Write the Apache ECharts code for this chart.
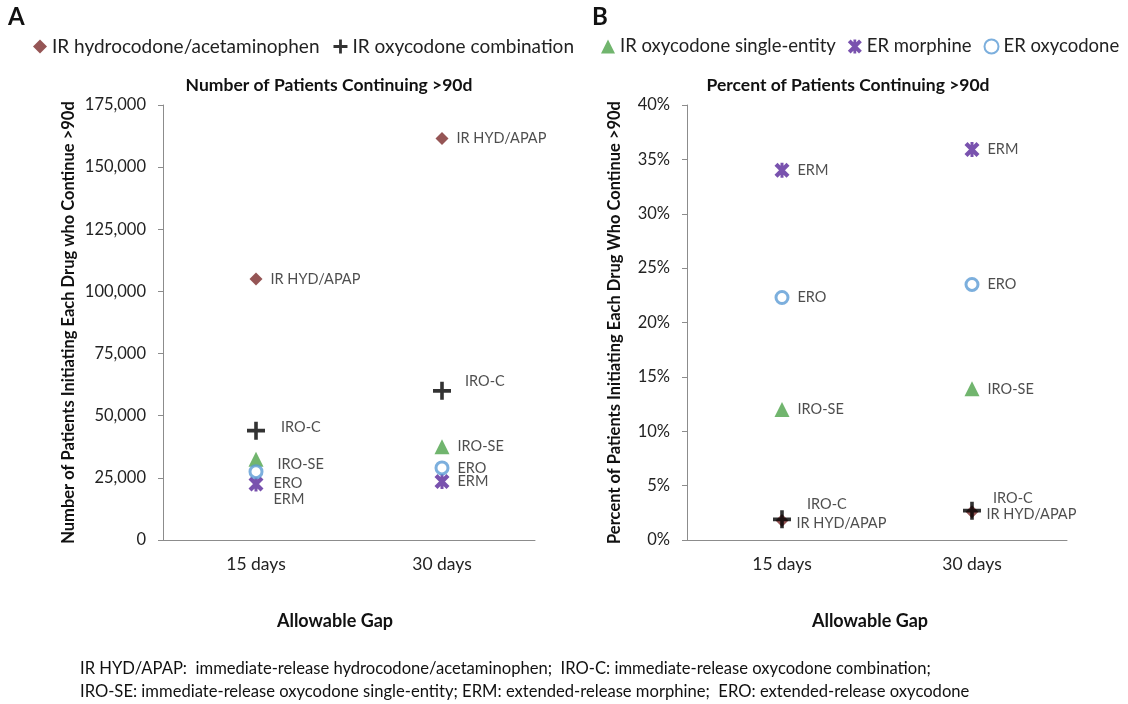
<!DOCTYPE html>
<html>
<head>
<meta charset="utf-8">
<script src="https://cdn.jsdelivr.net/npm/echarts@6/dist/echarts.min.js"></script>
<style>
  html, body { margin: 0; padding: 0; background: #fff; }
  #chart { width: 1128px; height: 704px; }
</style>
</head>
<body>
<div id="chart"></div>
<script>
// 数据 / data
const gaps = ['15 days', '30 days'];
const drugNames = ['IR hydrocodone/acetaminophen', 'IR oxycodone combination', 'IR oxycodone single-entity', 'ER morphine', 'ER oxycodone'];
const shortNames = ['IR HYD/APAP', 'IRO-C', 'IRO-SE', 'ERM', 'ERO'];

const countHydApap = [105000, 161500];
const countIroC = [44000, 60000];
const countIroSe = [32500, 37500];
const countErm = [22500, 23500];
const countEro = [27500, 29000];

const pctHydApap = [1.8, 2.6];
const pctIroC = [1.9, 2.7];
const pctIroSe = [12.0, 13.9];
const pctErm = [34.0, 35.9];
const pctEro = [22.3, 23.5];

const countTicks = { min: 0, max: 175000, interval: 25000 };
const pctTicks = { min: 0, max: 40, interval: 5 };

// 样式 / marker styles
const plusPath = 'path://M0,7.2H7.2V0H10.8V7.2H18V10.8H10.8V18H7.2V10.8H0Z';
const starPath = 'path://M0,2L2,0L10,8L8,10Z M8,0L10,2L2,10L0,8Z M4,0H6V10H4Z';
const markers = [
  { symbol: 'diamond', size: 13, itemStyle: { color: '#7a2a2a' } },
  { symbol: plusPath, size: 18, itemStyle: { color: '#000' } },
  { symbol: 'triangle', size: 15, itemStyle: { color: '#4ea34a' } },
  { symbol: starPath, size: 15, itemStyle: { color: '#58279a' } },
  { symbol: 'circle', size: 12, itemStyle: { color: '#fff', borderColor: '#5b9bd5', borderWidth: 3 } }
];
// label shifts [dx, dy] per point
const countShift = [[[0, 0], [0, 0]], [[8, -3], [6, -10]], [[6, 5], [0, 0]], [[2, 15], [0, 0]], [[2, 12], [0, 0]]];
const pctShift = [[[0, 3], [0, 3]], [[8, -15], [4, -12]], [[0, 0], [0, 0]], [[0, 0], [0, 0]], [[0, 0], [0, 0]]];

const countSeries = [countHydApap, countIroC, countIroSe, countErm, countEro];
const pctSeries = [pctHydApap, pctIroC, pctIroSe, pctErm, pctEro];
const drawOrder = [0, 2, 3, 4, 1];

const font = 'Lato';

function buildSeries(values, shifts, axisIndex) {
  return drawOrder.map(function (i) {
    return {
      name: drugNames[i],
      type: 'scatter',
      xAxisIndex: axisIndex,
      yAxisIndex: axisIndex,
      symbol: markers[i].symbol,
      symbolSize: markers[i].size,
      itemStyle: markers[i].itemStyle,
      z: i === 1 ? 5 : 3,
      data: values[i].map(function (v, k) {
        return {
          value: v,
          label: {
            show: true,
            position: 'right',
            distance: 8,
            offset: shifts[i][k],
            formatter: shortNames[i],
            color: '#222',
            fontFamily: font,
            fontSize: 14.5
          }
        };
      })
    };
  });
}

function yAxisOf(ticks, gridIndex, name, gap, fmt) {
  return {
    type: 'value',
    gridIndex: gridIndex,
    min: ticks.min,
    max: ticks.max,
    interval: ticks.interval,
    name: name,
    nameLocation: 'middle',
    nameGap: gap,
    nameTextStyle: { fontFamily: font, fontWeight: 'bold', fontSize: 16.5, color: '#111' },
    axisLine: { show: true, lineStyle: { color: '#8c8c8c' } },
    axisTick: { show: true, length: 5, lineStyle: { color: '#8c8c8c' } },
    splitLine: { show: false },
    axisLabel: { formatter: fmt, fontFamily: font, fontSize: 16.5, color: '#222', margin: 17 }
  };
}

function xAxisOf(gridIndex, shiftLeft) {
  return {
    type: 'category',
    gridIndex: gridIndex,
    data: gaps,
    boundaryGap: true,
    name: 'Allowable Gap',
    nameLocation: 'middle',
    nameGap: 72,
    nameTextStyle: { fontFamily: font, fontWeight: 'bold', fontSize: 18, color: '#111', padding: [0, shiftLeft, 0, 0] },
    axisLine: { lineStyle: { color: '#8c8c8c' } },
    axisTick: { length: 5, lineStyle: { color: '#8c8c8c' } },
    axisLabel: { fontFamily: font, fontSize: 17.5, color: '#222', margin: 15 }
  };
}

const chart = echarts.init(document.getElementById('chart'));
const option = {
  animation: false,
  backgroundColor: '#fff',
  title: [
    { text: 'Number of Patients Continuing >90d', left: 324, top: 71, textAlign: 'center',
      textStyle: { fontFamily: font, fontWeight: 'bold', fontSize: 17.5, color: '#111' } },
    { text: 'Percent of Patients Continuing >90d', left: 843, top: 71, textAlign: 'center',
      textStyle: { fontFamily: font, fontWeight: 'bold', fontSize: 17.5, color: '#111' } }
  ],
  legend: [
    { data: drugNames.slice(0, 2), left: 33, top: 37, padding: 0, itemWidth: 14, itemHeight: 14, itemGap: 14,
      textStyle: { fontFamily: font, fontSize: 19, color: '#222' } },
    { data: drugNames.slice(2), left: 601, top: 37, padding: 0, itemWidth: 14, itemHeight: 14, itemGap: 12,
      textStyle: { fontFamily: font, fontSize: 18.5, color: '#222' } }
  ],
  grid: [
    { left: 163, width: 372, top: 105, height: 435 },
    { left: 687, width: 380, top: 105, height: 435 }
  ],
  xAxis: [xAxisOf(0, 28), xAxisOf(1, 14)],
  yAxis: [
    yAxisOf(countTicks, 0, 'Number of Patients Initiating Each Drug who Continue >90d', 86,
      function (v) { return v.toLocaleString('en-US'); }),
    yAxisOf(pctTicks, 1, 'Percent of Patients Initiating Each Drug Who Continue >90d', 64,
      function (v) { return v + '%'; })
  ],
  graphic: [
    { type: 'text', left: 8, top: 5, style: { text: 'A', fontFamily: font, fontWeight: 'bold', fontSize: 24, fill: '#111' } },
    { type: 'text', left: 592, top: 5, style: { text: 'B', fontFamily: font, fontWeight: 'bold', fontSize: 24, fill: '#111' } },
    { type: 'text', left: 80, top: 657, style: {
      text: 'IR HYD/APAP:  immediate-release hydrocodone/acetaminophen;  IRO-C: immediate-release oxycodone combination;\nIRO-SE: immediate-release oxycodone single-entity; ERM: extended-release morphine;  ERO: extended-release oxycodone',
      fontFamily: font, fontSize: 16.6, lineHeight: 23, fill: '#111' } }
  ],
  series: buildSeries(countSeries, countShift, 0).concat(buildSeries(pctSeries, pctShift, 1))
};
chart.setOption(option);
window.addEventListener('resize', function () { chart.resize(); });
</script>
</body>
</html>
